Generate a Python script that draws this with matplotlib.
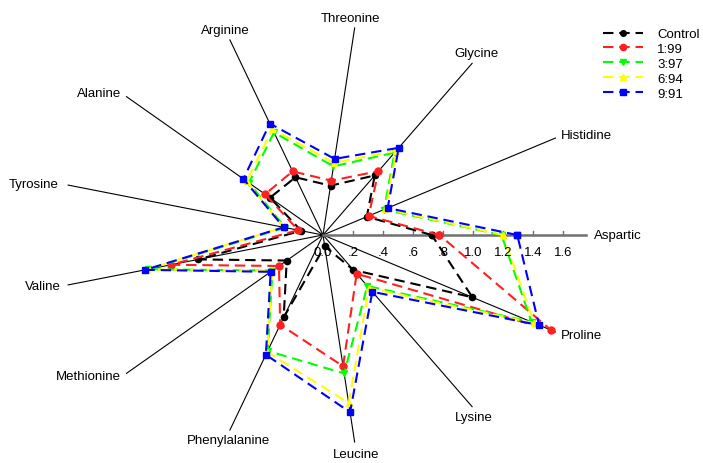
import matplotlib.pyplot as plt
import numpy as np

plt.rcParams['font.family'] = ['Liberation Sans', 'DejaVu Sans']

# ejes del radar (en sentido antihorario desde la derecha)
aminoacidos = ["Aspartic", "Histidine", "Glycine", "Threonine", "Arginine", "Alanine",
               "Tyrosine", "Valine", "Methionine", "Phenylalanine", "Leucine", "Lysine",
               "Proline"]

# valores
control = [0.725, 0.33, 0.607, 0.417, 0.518, 0.472, 0.15, 0.856, 0.323, 0.739, 0.095, 0.356, 1.125]
r_1_99 = [0.776, 0.344, 0.651, 0.459, 0.571, 0.516, 0.17, 1.044, 0.392, 0.805, 1.109, 0.395, 1.717]
r_3_97 = [1.19, 0.46, 0.84, 0.58, 0.92, 0.66, 0.26, 1.20, 0.45, 1.04, 1.17, 0.52, 1.57]
r_6_94 = [1.20, 0.47, 0.86, 0.61, 0.95, 0.68, 0.27, 1.21, 0.45, 1.05, 1.42, 0.54, 1.59]
r_9_91 = [1.295, 0.487, 0.889, 0.643, 1.0, 0.709, 0.27, 1.222, 0.466, 1.074, 1.498, 0.579, 1.627]

series = [control, r_1_99, r_3_97, r_6_94, r_9_91]
etiquetas = ["Control", "1:99", "3:97", "6:94", "9:91"]
colores = ["black", "#ff2020", "#00ff00", "#ffff00", "#0000ff"]
marcadores = ["o", "o", "v", "^", "s"]
tam_marcador = [4.5, 5, 4.5, 4.5, 5]

ticks = [0.0, 0.2, 0.4, 0.6, 0.8, 1.0, 1.2, 1.4, 1.6]
ticks_texto = ["0.0", ".2", ".4", ".6", ".8", "1.0", "1.2", "1.4", "1.6"]

largo = 1.75
angulos = np.arange(len(aminoacidos)) * 2 * np.pi / len(aminoacidos)

fig = plt.figure(figsize=(7.03, 4.64), dpi=100)
ax = fig.add_axes([0, 0, 1, 1])
ax.set_xlim(-323 / 150, (703 - 323) / 150)
ax.set_ylim(-(464 - 236) / 119.2, 236 / 119.2)
ax.axis("off")

# lineas de los ejes
for i, ang in enumerate(angulos):
    if i == 0:
        continue
    ax.plot([0, largo * np.cos(ang)], [0, largo * np.sin(ang)], color="black", lw=0.8, zorder=1)

# eje con escala (Aspartic)
ax.plot([0, largo], [0, 0], color="#707070", lw=1.8, zorder=1)
for t, txt in zip(ticks, ticks_texto):
    if t > 0:
        ax.plot([t, t], [0, 0.035], color="#707070", lw=1, zorder=1)
    ax.annotate(txt, (t, 0), xytext=(0, -12), textcoords="offset points",
                ha="center", va="center", fontsize=9.5)

# posicion de las etiquetas: (dx, dy) en puntos, ha, va
pos_etiquetas = [
    ((6, 0), "left", "center"),
    ((4, 2), "left", "center"),
    ((3, 3), "center", "bottom"),
    ((-3, 3), "center", "bottom"),
    ((-3, 3), "center", "bottom"),
    ((-4, 3), "right", "center"),
    ((-7, 1), "right", "center"),
    ((-5, -1), "right", "center"),
    ((-4, -2), "right", "center"),
    ((-1, -3), "center", "top"),
    ((1, -4), "center", "top"),
    ((1, -3), "center", "top"),
    ((4, -2), "left", "center"),
]
for nombre, ang, (off, ha, va) in zip(aminoacidos, angulos, pos_etiquetas):
    ax.annotate(nombre, (largo * np.cos(ang), largo * np.sin(ang)), xytext=off,
                textcoords="offset points", ha=ha, va=va, fontsize=9.5)

# series
for valores, nombre, color, m, ms in zip(series, etiquetas, colores, marcadores, tam_marcador):
    v = np.array(valores + valores[:1])
    a = np.concatenate([angulos, angulos[:1]])
    ax.plot(v * np.cos(a), v * np.sin(a), color=color, lw=1.5, linestyle=(0, (5, 2.8)),
            marker=m, markersize=ms, label=nombre, zorder=2)

ax.legend(loc="upper left", bbox_to_anchor=(603 / 703, 1 - 29 / 464), frameon=False,
          fontsize=9.5, handlelength=3.0, handletextpad=1.1, labelspacing=0.2,
          borderpad=0, borderaxespad=0, numpoints=1, markerscale=0.9)

fig.savefig("out.png", dpi=100)
